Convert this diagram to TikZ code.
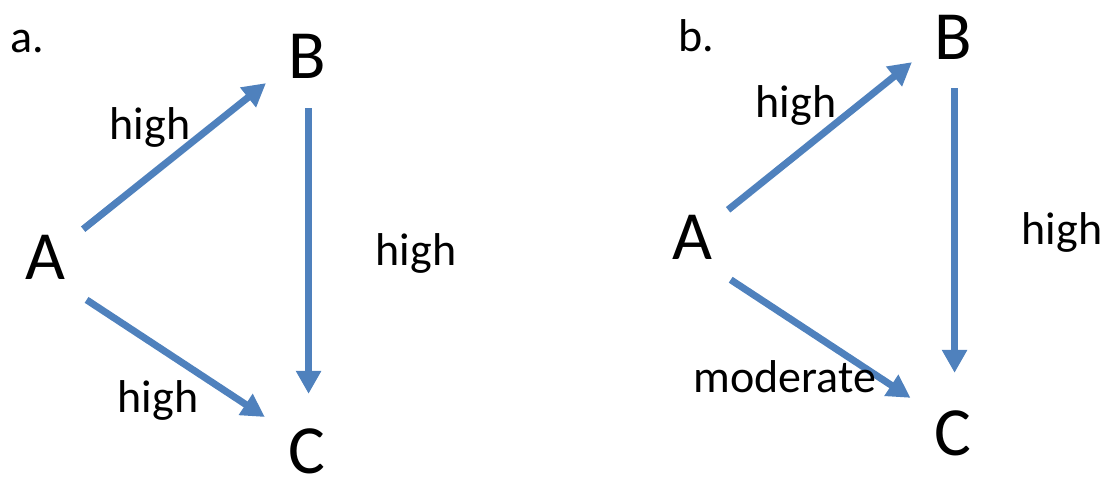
\documentclass[tikz,border=0pt]{standalone}
\usepackage{fontspec}
\setmainfont{Carlito}
\usetikzlibrary{arrows.meta}
\definecolor{linkblue}{RGB}{79,129,189}
\tikzset{
  vertex/.style={circle, inner sep=0pt, minimum size=90pt, font=\fontsize{69}{72}\selectfont},
  weight/.style={inner sep=0pt, font=\fontsize{46}{50}\selectfont},
  link/.style={linkblue, line width=7pt, -{Triangle[length=23pt,width=24pt]}},
}
\begin{document}
\begin{tikzpicture}[x=1pt, y=-1pt]
\useasboundingbox (0,0) rectangle (1112,477);
% panel a
\node[weight] (lbla) at (27,42) {a.};
\node[vertex] (A1) at (45,257) {A};
\node[vertex] (B1) at (307,56) {B};
\node[vertex] (C1) at (307,451) {C};
\draw[link, shorten <=2pt, shorten >=4pt] (A1.36) -- (B1.213);
\draw[link, shorten <=15pt, shorten >=9pt] (A1.-50) -- (C1.140);
\draw[link, shorten <=7pt, shorten >=12pt] (B1.-88) -- (C1.88);
\node[weight] (ab1) at (150,127) {high};
\node[weight] (bc1) at (416,253) {high};
\node[weight] (ac1) at (158,400) {high};
% panel b
\node[weight] (lblb) at (696,36) {b.};
\node[vertex] (A2) at (692,237) {A};
\node[vertex] (B2) at (953,37) {B};
\node[vertex] (C2) at (953,433) {C};
\draw[link, shorten <=0pt, shorten >=3pt] (A2.37) -- (B2.211);
\draw[link, shorten <=13pt, shorten >=10pt] (A2.-52) -- (C2.139);
\draw[link, shorten <=6pt, shorten >=15pt] (B2.-88) -- (C2.88);
\node[weight] (ab2) at (796,105) {high};
\node[weight] (bc2) at (1062,232) {high};
\node[weight] (ac2) at (785,377) {moderate};
\end{tikzpicture}
\end{document}
